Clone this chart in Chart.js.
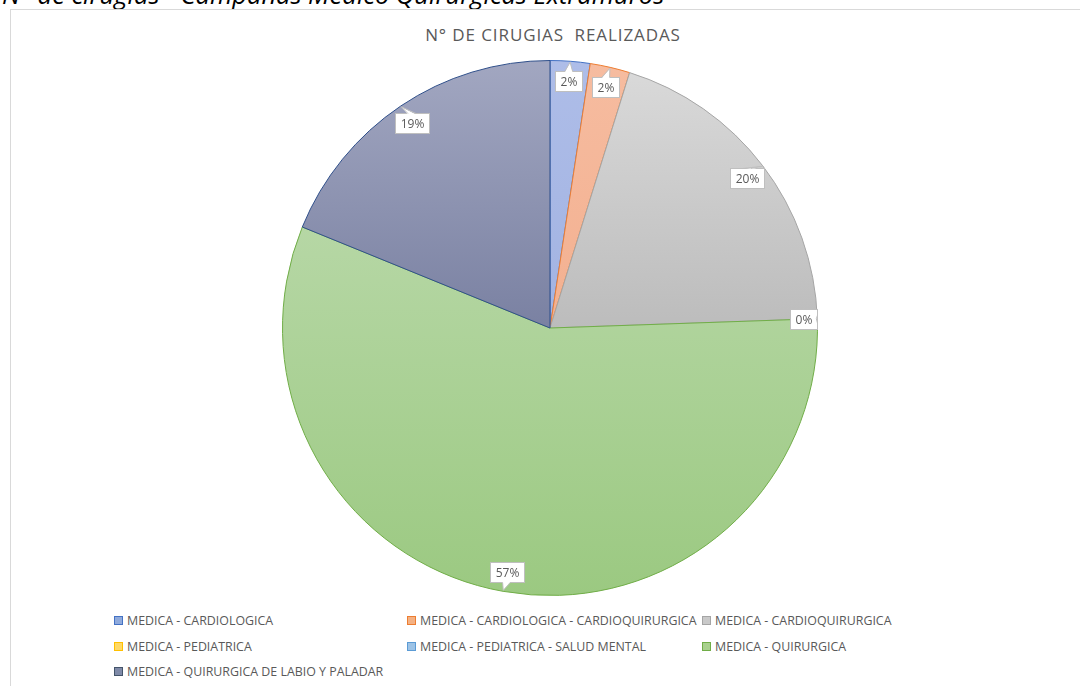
<!DOCTYPE html>
<html>
<head>
<meta charset="utf-8">
<script src="https://cdn.jsdelivr.net/npm/chart.js@4"></script>
<style>
  body { margin: 0; width: 1080px; height: 686px; overflow: hidden; background: #fff; position: relative; font-family: "Open Sans", "Liberation Sans", sans-serif; }
  #heading { position: absolute; left: 2px; top: -23px; font-size: 25.5px; font-style: italic; color: #000; white-space: nowrap; }
  #frame { position: absolute; left: 10px; top: 9px; width: 1100px; height: 700px; border: 1px solid #d9d9d9; }
  #title { position: absolute; left: 0; width: 1106px; top: 23px; text-align: center; font-size: 17px; letter-spacing: 0.9px; color: #595959; }
  #wrap { position: absolute; left: 0; top: 0; width: 1100px; height: 600px; }
  .lg { position: absolute; font-size: 12.4px; color: #595959; white-space: nowrap; line-height: 14px; }
  .lg i { display: inline-block; width: 7px; height: 7px; border: 1px solid; margin-right: 4px; vertical-align: 0px; }
</style>
</head>
<body>
<div id="heading">N° de cirugias - Campañas Medico Quirurgicas Extramuros</div>
<div id="frame"></div>
<div id="title">N° DE CIRUGIAS&nbsp; REALIZADAS</div>
<div id="wrap"><canvas id="pie"></canvas></div>
<div id="legend"></div>
<script>
// categories and number of surgeries (read from the percentages / slice sizes)
const categories = [
    'MEDICA - CARDIOLOGICA',
    'MEDICA - CARDIOLOGICA - CARDIOQUIRURGICA',
    'MEDICA - CARDIOQUIRURGICA',
    'MEDICA - PEDIATRICA',
    'MEDICA - PEDIATRICA - SALUD MENTAL',
    'MEDICA - QUIRURGICA',
    'MEDICA - QUIRURGICA DE LABIO Y PALADAR'
];
const surgeries = [12, 12, 98, 0, 0, 283, 94];

const topColors = ['#aebde8', '#f6bca0', '#d9d9d9', '#ffd966', '#9dc3e6', '#b6d7a5', '#a2a7c1'];
const bottomColors = ['#a2b3e2', '#f3b090', '#bcbcbc', '#ffc000', '#5b9bd5', '#9bc981', '#7a81a2'];
const borderColors = ['#4472c4', '#ed7d31', '#a5a5a5', '#ffc000', '#5b9bd5', '#70ad47', '#2f4f8a'];
const swatchColors = ['#8faadc', '#f4b183', '#c9c9c9', '#ffd966', '#9dc3e6', '#a9d18e', '#7f8aa8'];
const swatchBorders = ['#4472c4', '#ed7d31', '#a5a5a5', '#ffc000', '#5b9bd5', '#70ad47', '#44546a'];

// vertical gradient across each slice's own height
function sliceGradient(ctx) {
    const chart = ctx.chart;
    const area = chart.chartArea;
    const i = ctx.dataIndex;
    if (!area) return bottomColors[i];
    const data = ctx.dataset.data;
    const total = data.reduce((a, b) => a + b, 0);
    let before = 0;
    for (let k = 0; k < i; k++) before += data[k];
    const start = -Math.PI / 2 + 2 * Math.PI * before / total;
    const end = start + 2 * Math.PI * data[i] / total;
    const cy = (area.top + area.bottom) / 2;
    const r = Math.min(area.right - area.left, area.bottom - area.top) / 2;
    let minY = cy, maxY = cy;
    for (let s = 0; s <= 60; s++) {
        const a = start + (end - start) * s / 60;
        const y = cy + r * Math.sin(a);
        minY = Math.min(minY, y);
        maxY = Math.max(maxY, y);
    }
    if (maxY - minY < 1) maxY = minY + 1;
    const g = chart.ctx.createLinearGradient(0, minY, 0, maxY);
    g.addColorStop(0, topColors[i]);
    g.addColorStop(1, bottomColors[i]);
    return g;
}

// percentage callouts (zero slices still get their 0% label, as in Excel)
const calloutPlugin = {
    id: 'callouts',
    afterDatasetsDraw(chart) {
        const ctx = chart.ctx;
        const meta = chart.getDatasetMeta(0);
        const data = chart.data.datasets[0].data;
        const total = data.reduce((a, b) => a + b, 0);
        ctx.save();
        ctx.font = '12px "Open Sans", sans-serif';
        meta.data.forEach((arc, i) => {
            const p = arc.getProps(['x', 'y', 'startAngle', 'endAngle', 'outerRadius'], true);
            const mid = (p.startAngle + p.endAngle) / 2;
            const ux = Math.cos(mid), uy = Math.sin(mid);
            const r = p.outerRadius;
            const k = data[i] === 0 ? 0.95 : 0.925;
            const bx = p.x + ux * r * k;
            const by = p.y + uy * r * k;
            const txt = Math.round(data[i] / total * 100) + '%';
            const w = Math.round(ctx.measureText(txt).width) + 10;
            const h = 20;
            const left = Math.round(bx - w / 2) + 0.5, top = Math.round(by - h / 2) + 0.5;
            ctx.fillStyle = '#fff';
            ctx.strokeStyle = '#bfbfbf';
            ctx.lineWidth = 1;
            ctx.fillRect(left, top, w, h);
            ctx.strokeRect(left, top, w, h);
            // pointer from the box toward the slice edge
            const tipX = p.x + ux * (r - 1), tipY = p.y + uy * (r - 1);
            let ex, ey, px, py;
            if (Math.abs(ux) * h > Math.abs(uy) * w) {
                ex = ux > 0 ? left + w : left; ey = by; px = 0; py = 4;
            } else {
                ex = bx; ey = uy > 0 ? top + h : top; px = 4; py = 0;
            }
            const inX = ux > 0 ? -1 : 1, inY = uy > 0 ? -1 : 1;
            const ix = px ? 0 : inX, iy = py ? 0 : inY;
            ctx.beginPath();
            ctx.moveTo(ex - px + ix, ey - py + iy);
            ctx.lineTo(tipX, tipY);
            ctx.lineTo(ex + px + ix, ey + py + iy);
            ctx.closePath();
            ctx.fill();
            ctx.beginPath();
            ctx.moveTo(ex - px, ey - py);
            ctx.lineTo(tipX, tipY);
            ctx.lineTo(ex + px, ey + py);
            ctx.stroke();
            ctx.fillStyle = '#595959';
            ctx.textAlign = 'center';
            ctx.textBaseline = 'middle';
            ctx.fillText(txt, left + w / 2, top + h / 2 + 1);
        });
        ctx.restore();
    }
};

new Chart(document.getElementById('pie'), {
    type: 'pie',
    data: {
        labels: categories,
        datasets: [{
            data: surgeries,
            backgroundColor: sliceGradient,
            borderColor: borderColors,
            borderWidth: 1
        }]
    },
    options: {
        responsive: true,
        maintainAspectRatio: false,
        animation: false,
        layout: { padding: { top: 60, bottom: 4 } },
        plugins: {
            legend: { display: false },
            tooltip: { enabled: false }
        }
    },
    plugins: [calloutPlugin]
});

// legend laid out in three columns like the original
const legendCols = [114, 407, 702];
const legendRows = [614, 640, 665];
const legend = document.getElementById('legend');
categories.forEach((name, i) => {
    const d = document.createElement('div');
    d.className = 'lg';
    d.style.left = legendCols[i % 3] + 'px';
    d.style.top = legendRows[Math.floor(i / 3)] + 'px';
    const sw = document.createElement('i');
    sw.style.background = swatchColors[i];
    sw.style.borderColor = swatchBorders[i];
    d.appendChild(sw);
    d.appendChild(document.createTextNode(name));
    legend.appendChild(d);
});
</script>
</body>
</html>
